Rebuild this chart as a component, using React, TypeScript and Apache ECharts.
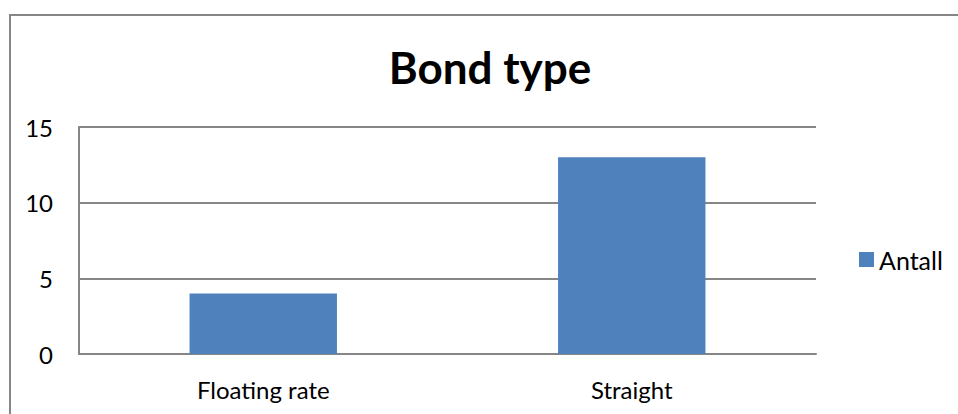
import React, { useEffect, useRef } from "react";
import * as echarts from "echarts";

const categories = ["Floating rate", "Straight"];
const antall = [4, 13];
const seriesName = "Antall";
const titleText = "Bond type";
const yMin = 0;
const yMax = 15;
const yStep = 5;

const FONT = "Lato, 'Noto Sans', sans-serif";

export default function App() {
  const ref = useRef<HTMLDivElement>(null);

  useEffect(() => {
    if (!ref.current) return;
    const chart = echarts.init(ref.current, undefined, { renderer: "svg" });
    chart.setOption({
      animation: false,
      backgroundColor: "#ffffff",
      textStyle: { fontFamily: FONT },
      graphic: [
        {
          type: "rect",
          shape: { x: 10, y: 15, width: 1000, height: 500 },
          style: { fill: "none", stroke: "#868686", lineWidth: 2 },
          silent: true,
        },
        {
          type: "text",
          x: 490,
          y: 67,
          style: {
            text: titleText,
            fontFamily: FONT,
            fontWeight: "bold",
            fontSize: 44,
            fill: "#000000",
            align: "center",
            verticalAlign: "middle",
          },
        },
      ],
      legend: {
        data: [seriesName],
        orient: "vertical",
        left: 859,
        top: 247,
        padding: 0,
        itemWidth: 15,
        itemHeight: 15,
        itemGap: 0,
        icon: "rect",
        textStyle: { fontFamily: FONT, fontSize: 25, lineHeight: 25, color: "#000000" },
      },
      grid: { left: 79, right: 142, top: 127, bottom: 60, containLabel: false },
      xAxis: {
        type: "category",
        data: categories,
        axisLine: { show: true, lineStyle: { color: "#868686", width: 2 } },
        axisTick: { show: false },
        axisLabel: { fontFamily: FONT, fontSize: 24, color: "#000000", margin: 23 },
      },
      yAxis: {
        type: "value",
        min: yMin,
        max: yMax,
        interval: yStep,
        axisLine: { show: true, lineStyle: { color: "#868686", width: 2 } },
        axisTick: { show: false },
        splitLine: { show: true, lineStyle: { color: "#868686", width: 2 } },
        axisLabel: { fontFamily: FONT, fontSize: 24, color: "#000000", margin: 26 },
      },
      series: [
        {
          name: seriesName,
          type: "bar",
          data: antall,
          barWidth: "40%",
          itemStyle: { color: "#4F81BD" },
        },
      ],
    });
    return () => chart.dispose();
  }, []);

  return (
    <div
      ref={ref}
      style={{ position: "absolute", left: 0, top: 0, width: 958, height: 414 }}
    />
  );
}
